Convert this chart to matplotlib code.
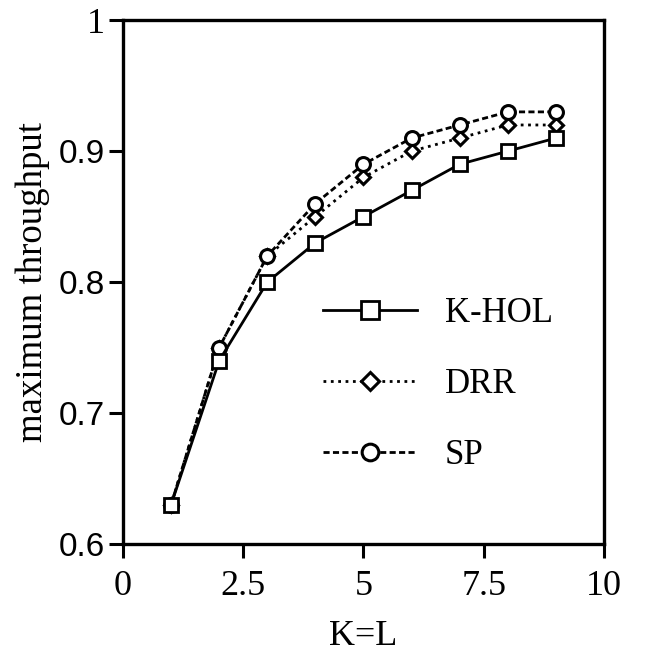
import matplotlib.pyplot as plt

# K=L values and maximum throughput for each scheme
k_values = [1, 2, 3, 4, 5, 6, 7, 8, 9]
khol = [0.63, 0.74, 0.80, 0.83, 0.85, 0.87, 0.89, 0.90, 0.91]
drr = [0.63, 0.75, 0.82, 0.85, 0.88, 0.90, 0.91, 0.92, 0.92]
sp = [0.63, 0.75, 0.82, 0.86, 0.89, 0.91, 0.92, 0.93, 0.93]

x_ticks = [0, 2.5, 5, 7.5, 10]
x_labels = ['0', '2.5', '5', '7.5', '10']
y_ticks = [0.6, 0.7, 0.8, 0.9, 1.0]
y_labels = ['0.6', '0.7', '0.8', '0.9', '1']

plt.rcParams['font.family'] = 'serif'
plt.rcParams['font.serif'] = ['Liberation Serif', 'DejaVu Serif']

fig = plt.figure(figsize=(6.63, 6.53), dpi=100)
ax = fig.add_axes([0.1855, 0.167, 0.7255, 0.802])

ax.plot(k_values, drr, ':', color='black', lw=2.0, marker='D', ms=7.5,
        mfc='white', mec='black', mew=2.2, label='DRR', zorder=2)
ax.plot(k_values, sp, color='black', lw=2.0, ls=(0, (2.2, 1.2)), marker='o', ms=10,
        mfc='white', mec='black', mew=2.2, label='SP', zorder=2)
ax.plot(k_values, khol, '-', color='black', lw=2.0, marker='s', ms=10.5,
        mfc='white', mec='black', mew=2, label='K-HOL', zorder=3)

ax.set_xlim(0, 10)
ax.set_ylim(0.6, 1.0)
ax.set_xticks(x_ticks)
ax.set_xticklabels(x_labels)
ax.set_yticks(y_ticks)
ax.set_yticklabels(y_labels)
ax.tick_params(direction='out', length=10, width=2.2, labelsize=26)
ax.tick_params(axis='x', pad=9)
ax.tick_params(axis='y', pad=3)
# scanned original uses a sans face for the decimal y labels
for t in ax.get_yticklabels()[:-1]:
    t.set_fontfamily('Liberation Sans')
    t.set_fontsize(24)
for s in ax.spines.values():
    s.set_linewidth(2.4)

ax.set_xlabel('K=L', fontsize=26, labelpad=12)
ax.set_ylabel('maximum throughput', fontsize=26.5, labelpad=6)

h, l = ax.get_legend_handles_labels()
order = [2, 0, 1]
ax.legend([h[i] for i in order], [l[i] for i in order],
          loc='upper left', bbox_to_anchor=(0.416, 0.472), frameon=False,
          fontsize=25, handlelength=2.7, handletextpad=0.8, labelspacing=1.1,
          numpoints=1, borderaxespad=0, borderpad=0, markerscale=1.2)

fig.savefig('out.png', dpi=100)
